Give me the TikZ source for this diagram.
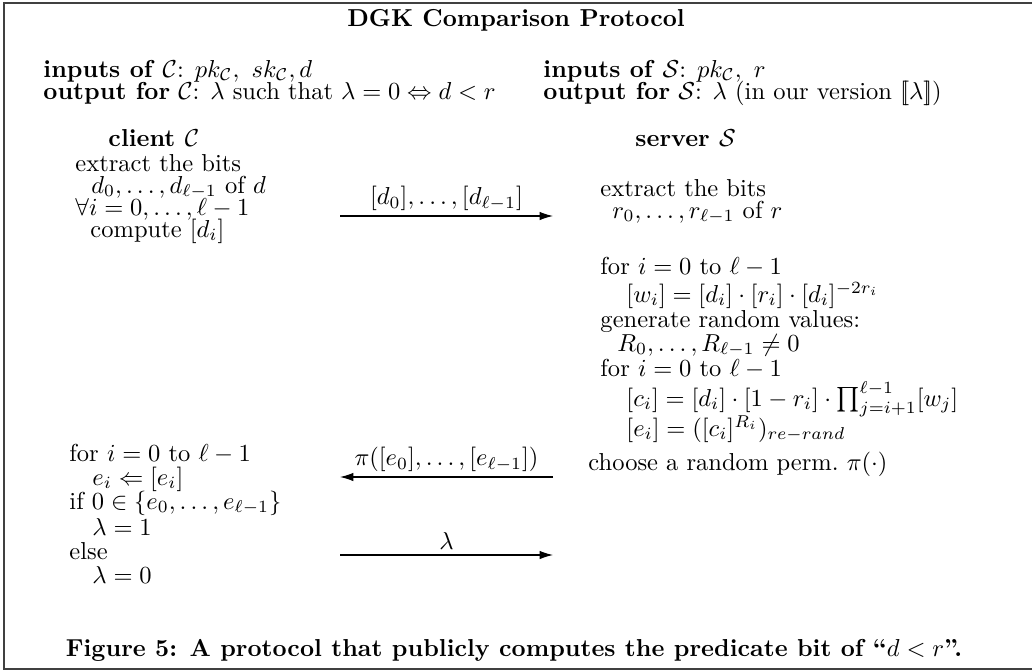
\documentclass[tikz,border=0pt]{standalone}
\usepackage{amsmath,amssymb}
\usetikzlibrary{arrows.meta}
\newcommand{\lbb}{\mathopen{[\mkern-3.5mu[}}
\newcommand{\rbb}{\mathclose{]\mkern-3.5mu]}}
\tikzset{
  txt/.style={anchor=base west, inner sep=0pt, font=\fontsize{10}{12}\selectfont},
  hdr/.style={anchor=base west, inner sep=0pt, font=\fontsize{10}{12}\selectfont\bfseries},
  msg/.style={draw, line width=0.5pt, -{Latex[length=5.5pt,width=3.5pt]}},
  lbl/.style={above, inner sep=2pt, font=\fontsize{10}{12}\selectfont},
  frame/.style={draw=black!75, line width=0.8pt}
}
\begin{document}
\begin{tikzpicture}[x=0.408pt, y=-0.408pt]
\useasboundingbox (0,0) rectangle (1032,671);
\draw[frame] (1040,3) -- (4,3) -- (4,669) -- (1040,669);
% title
\node[anchor=base, inner sep=0pt, font=\fontsize{10}{12}\selectfont\bfseries] (title) at (516,26) {DGK Comparison Protocol};
% header
\node[txt] (inC) at (43,77) {\textbf{inputs of} $\mathcal{C}$: $pk_{\mathcal{C}},\ sk_{\mathcal{C}}, d$};
\node[txt] (outC) at (43,99) {\textbf{output for} $\mathcal{C}$: $\lambda$ such that $\lambda=0 \Leftrightarrow d<r$};
\node[txt] (inS) at (543,77) {\textbf{inputs of} $\mathcal{S}$: $pk_{\mathcal{C}},\ r$};
\node[txt] (outS) at (543,99) {\textbf{output for} $\mathcal{S}$: $\lambda$ (in our version $\lbb\lambda\rbb$)};
\node[hdr] (client) at (108,146) {client $\mathcal{C}$};
\node[hdr] (server) at (635,146) {server $\mathcal{S}$};
% client top
\node[txt] (c1) at (75,171) {extract the bits};
\node[txt] (c2) at (91,193) {$d_0,\dots,d_{\ell-1}$ of $d$};
\node[txt] (c3) at (75,215) {$\forall i=0,\dots,\ell-1$};
\node[txt] (c4) at (90,237) {compute $[d_i]$};
% server
\node[txt] (s1) at (600,196) {extract the bits};
\node[txt] (s2) at (612,218) {$r_0,\dots,r_{\ell-1}$ of $r$};
\node[txt] (s3) at (600,274) {for $i=0$ to $\ell-1$};
\node[txt] (s4) at (626,302) {$[w_i]=[d_i]\cdot[r_i]\cdot[d_i]^{-2r_i}$};
\node[txt] (s5) at (600,327) {generate random values:};
\node[txt] (s6) at (617,351) {$R_0,\dots,R_{\ell-1}\neq 0$};
\node[txt] (s7) at (600,376) {for $i=0$ to $\ell-1$};
\node[txt] (s8) at (626,406) {$[c_i]=[d_i]\cdot[1-r_i]\cdot\prod_{j=i+1}^{\ell-1}[w_j]$};
\node[txt] (s9) at (626,436) {$[e_i]=([c_i]^{R_i})_{re-rand}$};
\node[txt] (s10) at (588,470) {choose a random perm.\ $\pi(\cdot)$};
% client bottom
\node[txt] (c5) at (69,461) {for $i=0$ to $\ell-1$};
\node[txt] (c6) at (92,485) {$e_i\Leftarrow[e_i]$};
\node[txt] (c7) at (69,509) {if $0\in\{e_0,\dots,e_{\ell-1}\}$};
\node[txt] (c8) at (92,535) {$\lambda=1$};
\node[txt] (c9) at (69,559) {else};
\node[txt] (c10) at (92,583) {$\lambda=0$};
% messages
\coordinate (a1s) at (340,216); \coordinate (a1e) at (553,216);
\coordinate (a2s) at (553,477); \coordinate (a2e) at (340,477);
\coordinate (a3s) at (340,555); \coordinate (a3e) at (553,555);
\draw[msg] (a1s) -- node[lbl] (l1) {$[d_0],\dots,[d_{\ell-1}]$} (a1e);
\draw[msg] (a2s) -- node[lbl] (l2) {$\pi([e_0],\dots,[e_{\ell-1}])$} (a2e);
\draw[msg] (a3s) -- node[lbl] (l3) {$\lambda$} (a3e);
% caption
\node[anchor=base, inner sep=0pt, font=\fontsize{10}{12}\selectfont\bfseries] (cap) at (514,656) {Figure 5: A protocol that publicly computes the predicate bit of ``$d<r$''.};
\end{tikzpicture}
\end{document}
